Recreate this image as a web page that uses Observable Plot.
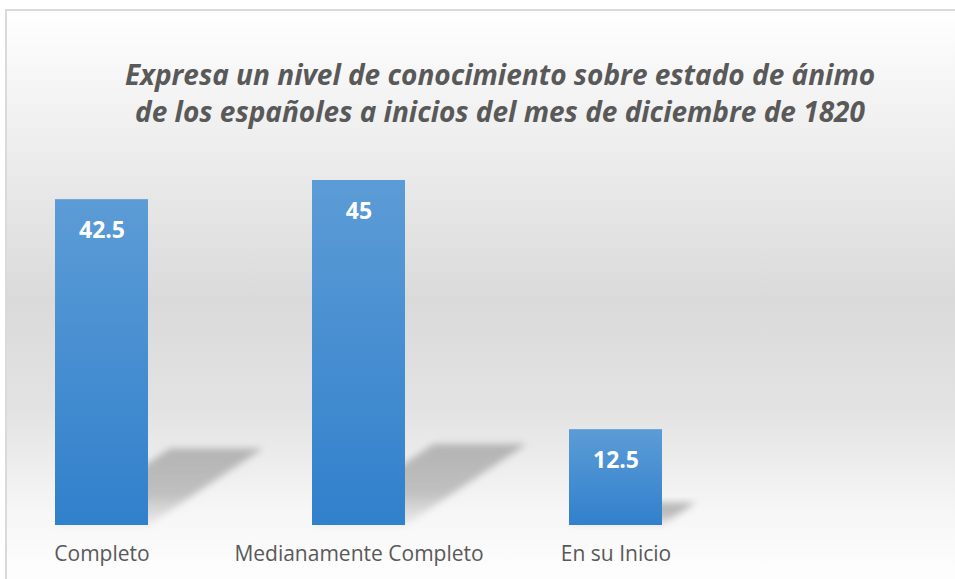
<!DOCTYPE html>
<html>
<head>
<meta charset="utf-8">
<script src="https://cdn.jsdelivr.net/npm/d3@7"></script>
<script src="https://cdn.jsdelivr.net/npm/@observablehq/plot@0.6"></script>
<style>
  html, body { margin: 0; padding: 0; background: #ffffff; overflow: hidden; }
  #wrap { position: relative; width: 955px; height: 579px; overflow: hidden; }
  #frame {
    position: absolute; left: 5px; top: 9px; width: 1100px; height: 620px;
    border-top: 2px solid #dadada; border-left: 2px solid #dadada; border-right: none; border-bottom: none;
    background: linear-gradient(to bottom, #ffffff 0px, #f3f3f3 90px, #e9e9e9 170px, #dadada 290px, #e3e3e3 400px, #f6f6f6 500px, #fdfdfd 560px, #ffffff 620px);
  }
  #title {
    position: absolute; left: 0; top: 56px; width: 1000px;
    text-align: center; font-family: "Open Sans", sans-serif; font-weight: bold; font-style: italic;
    font-size: 28px; line-height: 37px; color: #595959;
  }
  #chart { position: absolute; left: 0; top: 150px; }
</style>
</head>
<body>
<div id="wrap">
  <div id="frame"></div>
  <div id="title">Expresa un nivel de conocimiento sobre estado de ánimo<br>de los españoles a inicios del mes de diciembre de 1820</div>
  <div id="chart"></div>
</div>
<script>
const categories = ["Completo", "Medianamente Completo", "En su Inicio"];
const values = [42.5, 45, 12.5];
const labels = ["42.5", "45", "12.5"];

const data = categories.map((c, i) => ({category: c, value: values[i], label: labels[i]}));

function shadows(index, scales, vals, dimensions) {
  const g = d3.create("svg:g");
  const defs = g.append("defs");
  const bg = defs.append("linearGradient").attr("id", "barGrad").attr("x1", 0).attr("y1", 0).attr("x2", 0).attr("y2", 1);
  bg.append("stop").attr("offset", "0%").attr("stop-color", "#5c9cd6");
  bg.append("stop").attr("offset", "100%").attr("stop-color", "#3180cc");
  const sg = defs.append("linearGradient").attr("id", "shGrad").attr("x1", 0).attr("y1", 0).attr("x2", 0).attr("y2", 1);
  sg.append("stop").attr("offset", "0%").attr("stop-color", "#b0b0b0").attr("stop-opacity", 0.95);
  sg.append("stop").attr("offset", "60%").attr("stop-color", "#bababa").attr("stop-opacity", 0.9);
  sg.append("stop").attr("offset", "100%").attr("stop-color", "#d5d5d5").attr("stop-opacity", 0.4);
  defs.append("filter").attr("id", "blur").attr("x", "-20%").attr("y", "-20%").attr("width", "140%").attr("height", "140%")
    .append("feGaussianBlur").attr("stdDeviation", 3.5);
  const x = scales.x, y = scales.y, bw = x.bandwidth();
  data.forEach(d => {
    const x0 = x(d.category), x1 = x0 + bw;
    const yb = y(0), yt = y(d.value);
    const hs = 0.235 * (yb - yt);
    const sh = 1.5 * hs;
    const pts = [[x0, yb], [x1, yb], [x1 + sh, yb - hs], [x0 + sh, yb - hs]];
    g.append("path")
      .attr("d", "M" + pts.map(p => p.join(",")).join("L") + "Z")
      .attr("fill", "url(#shGrad)")
      .attr("filter", "url(#blur)");
  });
  return g.node();
}

const plot = Plot.plot({
  width: 955,
  height: 429,
  marginTop: 30,
  marginBottom: 54,
  marginLeft: 0,
  marginRight: 0,
  style: {background: "transparent", fontFamily: "Open Sans, sans-serif", color: "#595959", overflow: "visible"},
  x: {domain: categories, range: [55, 662], paddingInner: 0.64, paddingOuter: 0, label: null},
  y: {domain: [0, 45], axis: null},
  marks: [
    shadows,
    Plot.barY(data, {x: "category", y: "value", fill: "url(#barGrad)"}),
    Plot.text(data, {x: "category", y: "value", text: "label", dy: 31, fill: "white", fontWeight: "bold", fontSize: 23}),
    Plot.axisX({tickSize: 0, tickPadding: 21, fontSize: 21, fill: "#595959", label: null})
  ]
});
document.getElementById("chart").appendChild(plot);
</script>
</body>
</html>
